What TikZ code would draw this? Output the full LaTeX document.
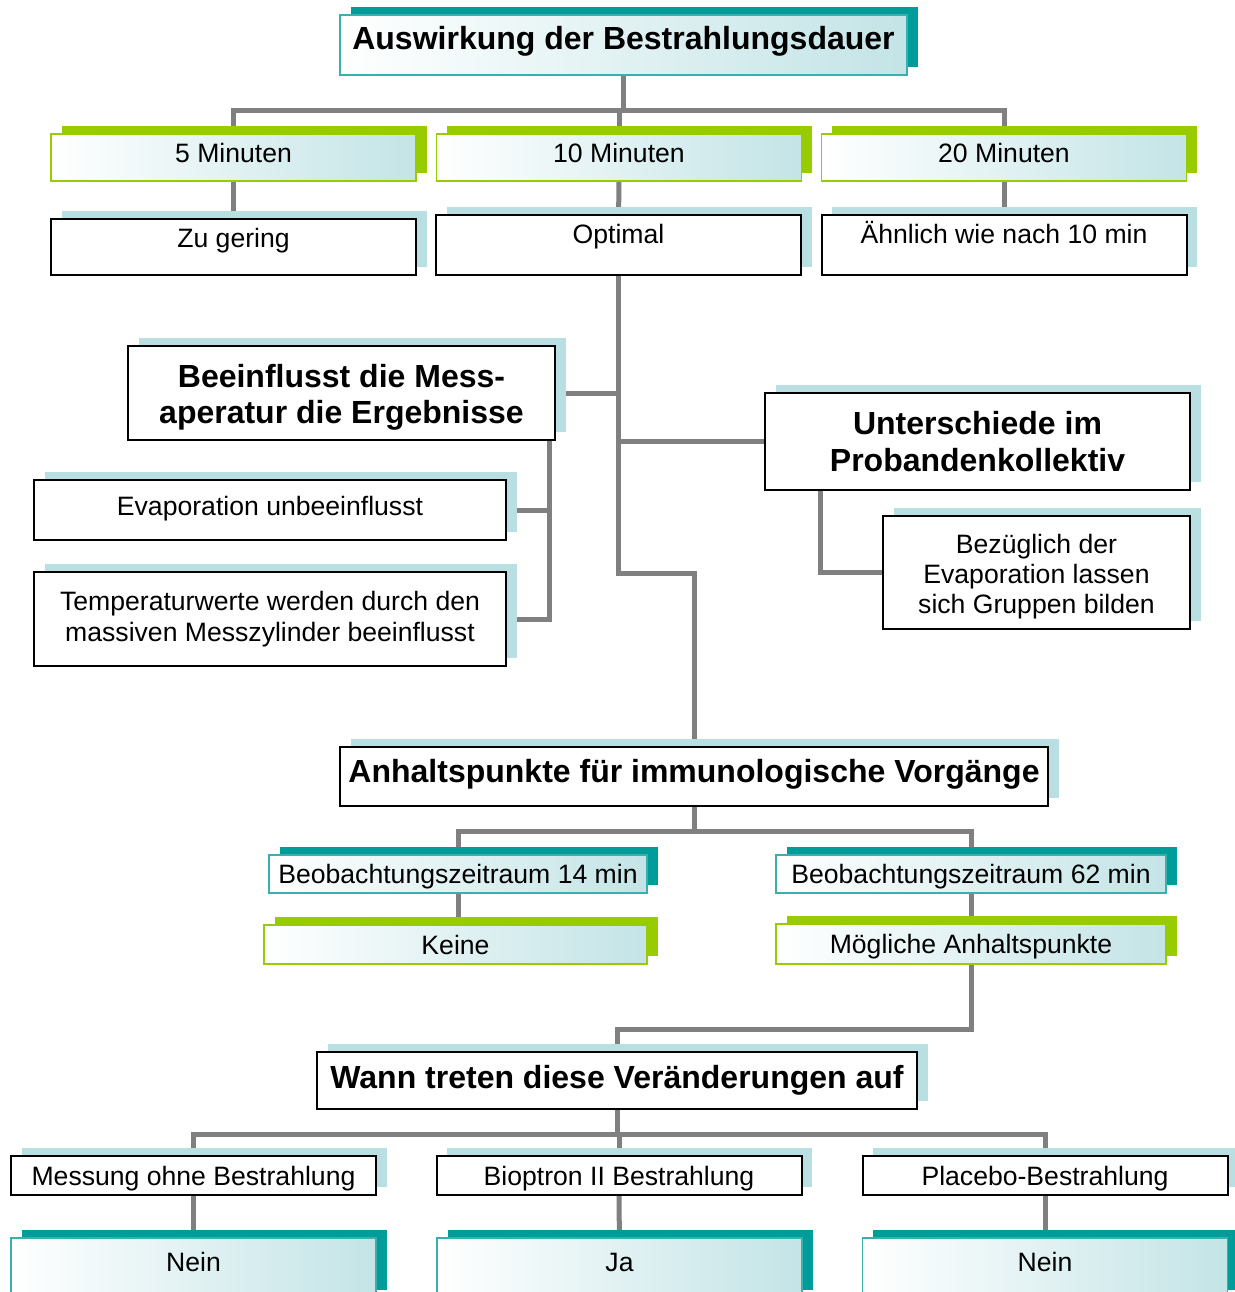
\documentclass[tikz,border=0pt]{standalone}
\usepackage{fontspec}
\setmainfont{Liberation Sans}
\usetikzlibrary{shadows,backgrounds}
\definecolor{tealdark}{HTML}{009C9A}
\definecolor{tealline}{HTML}{3AAFAD}
\definecolor{limegreen}{HTML}{99CC00}
\definecolor{paleblue}{HTML}{B9DFE2}
\definecolor{linegray}{HTML}{808080}
\begin{document}
\begin{tikzpicture}[x=0.5pt,y=-0.5pt,
    lift/.style={text height=9.5pt, text depth=#1}]
            \tikzstyle{box}=[rectangle, inner xsep=2pt, inner ysep=1pt, align=center, font=\fontsize{13.3}{15.2}\selectfont]
            \tikzstyle{plainbox}=[box, draw=black, line width=1pt, fill=white, drop shadow={shadow xshift=5.3pt, shadow yshift=3.8pt, fill=paleblue, opacity=1}]
            \tikzstyle{headbox}=[plainbox, font=\fontsize{16}{18.3}\selectfont\bfseries]
            \tikzstyle{greenbox}=[box, draw=limegreen, line width=0.8pt, left color=white, right color=paleblue!85, drop shadow={shadow xshift=5.3pt, shadow yshift=3.8pt, fill=limegreen, opacity=1}]
            \tikzstyle{tealbox}=[box, draw=tealline, line width=0.8pt, left color=white, right color=paleblue!85, drop shadow={shadow xshift=5.3pt, shadow yshift=3.8pt, fill=tealdark, opacity=1}]
            \tikzstyle{conn}=[draw=linegray, line width=2.5pt]
            \useasboundingbox (0,0) rectangle (1235,1292);
            % Bestrahlungsdauer
            \node[tealbox, font=\fontsize{16}{18.3}\selectfont\bfseries, lift=5pt, minimum width=283.5pt, minimum height=30pt] (T) at (623.5,45) {Auswirkung der Bestrahlungsdauer};
            \node[greenbox, lift=5pt, minimum width=182.5pt, minimum height=23.5pt] (M5) at (233.5,157.5) {5 Minuten};
            \node[greenbox, lift=5pt, minimum width=182.5pt, minimum height=23.5pt] (M10) at (619,157.5) {10 Minuten};
            \node[greenbox, lift=5pt, minimum width=182.5pt, minimum height=23.5pt] (M20) at (1004,157.5) {20 Minuten};
            \node[plainbox, lift=9pt, minimum width=182.5pt, minimum height=28pt] (Z) at (233.5,247) {Zu gering};
            \node[plainbox, lift=11pt, minimum width=182.5pt, minimum height=30pt] (O) at (618.5,245) {Optimal};
            \node[plainbox, lift=11pt, minimum width=182.5pt, minimum height=30pt] (AE) at (1004,245) {Ähnlich wie nach 10 min};
            % Messapparatur
            \node[headbox, minimum width=213.5pt, minimum height=47pt] (BE) at (341.5,393) {\rule{0pt}{16pt}Beeinflusst die Mess-\\aperatur die Ergebnisse};
            \node[plainbox, lift=4pt, minimum width=236pt, minimum height=30pt] (EV) at (270,510) {Evaporation unbeeinflusst};
            \node[plainbox, minimum width=236pt, minimum height=47pt] (TW) at (270,619) {Temperaturwerte werden durch den\\massiven Messzylinder beeinflusst};
            % Probanden
            \node[headbox, minimum width=212.5pt, minimum height=48.5pt] (U) at (977.5,441.5) {Unterschiede im\\Probandenkollektiv};
            \node[plainbox, minimum width=153.5pt, minimum height=56.5pt] (BZ) at (1036.5,572.5) {\rule{0pt}{13.7pt}Bezüglich der\\Evaporation lassen\\sich Gruppen bilden};
            % immunologische Vorgaenge
            \node[headbox, lift=4pt, minimum width=354pt, minimum height=29.5pt] (A) at (694,776.5) {Anhaltspunkte für immunologische Vorgänge};
            \node[tealbox, lift=0pt, minimum width=189pt, minimum height=19pt] (B14) at (458,874) {Beobachtungszeitraum 14 min};
            \node[tealbox, lift=0pt, minimum width=195pt, minimum height=19pt] (B62) at (971,874) {Beobachtungszeitraum 62 min};
            \node[greenbox, lift=0pt, minimum width=191.5pt, minimum height=19.5pt] (K) at (455.5,944.5) {Keine};
            \node[greenbox, lift=0pt, minimum width=195pt, minimum height=20pt] (MA) at (971,944) {Mögliche Anhaltspunkte};
            % Zeitpunkt
            \node[headbox, minimum width=300pt, minimum height=28.5pt] (W) at (617,1080.5) {Wann treten diese Veränderungen auf};
            \node[plainbox, lift=0pt, minimum width=182.5pt, minimum height=19.5pt] (MO) at (193.5,1175.5) {Messung ohne Bestrahlung};
            \node[plainbox, lift=0pt, minimum width=182.5pt, minimum height=19.5pt] (BI) at (619,1175.5) {Bioptron II Bestrahlung};
            \node[plainbox, lift=0pt, minimum width=182.5pt, minimum height=19.5pt] (PL) at (1045,1175.5) {Placebo-Bestrahlung};
            \node[tealbox, lift=6pt, minimum width=182.5pt, minimum height=30pt] (N1) at (193.5,1268) {Nein};
            \node[tealbox, lift=6pt, minimum width=182.5pt, minimum height=30pt] (JA) at (619.5,1268) {Ja};
            \node[tealbox, lift=6pt, minimum width=182.5pt, minimum height=30pt] (N2) at (1045,1268) {Nein};
            \begin{scope}[on background layer]
            \draw[conn] (T.south) -- ++(0,35) -| (M5.north);
            \draw[conn] (T.south) -- ++(0,35) -| (M10.north);
            \draw[conn] (T.south) -- ++(0,35) -| (M20.north);
            \path[conn] (M5) edge (Z) (M10) edge (O) (M20) edge (AE);
            \draw[conn] (O.south) |- (BE.east);
            \draw[conn] (O.south) |- (U.west);
            \draw[conn] (O.south) -- ++(0,297) -| (A.north);
            \draw[conn] ([xshift=-3.5pt]BE.south east) |- (EV.east);
            \draw[conn] ([xshift=-3.5pt]BE.south east) |- (TW.east);
            \draw[conn] ([xshift=28pt]U.south west) |- (BZ.west);
            \draw[conn] (A.south) -- ++(0,24) -| (B14.north);
            \draw[conn] (A.south) -- ++(0,24) -| (B62.north);
            \draw[conn] (B14.south) -- (B14.south |- K.north);
            \path[conn] (B62) edge (MA);
            \draw[conn] (MA.south) -- ++(0,65) -| (W.north);
            \draw[conn] (W.south) -- ++(0,24) -| (MO.north);
            \draw[conn] (W.south) -- ++(0,24) -| (BI.north);
            \draw[conn] (W.south) -- ++(0,24) -| (PL.north);
            \path[conn] (MO) edge (N1) (BI) edge (JA) (PL) edge (N2);
            \end{scope}
        \end{tikzpicture}
\end{document}
